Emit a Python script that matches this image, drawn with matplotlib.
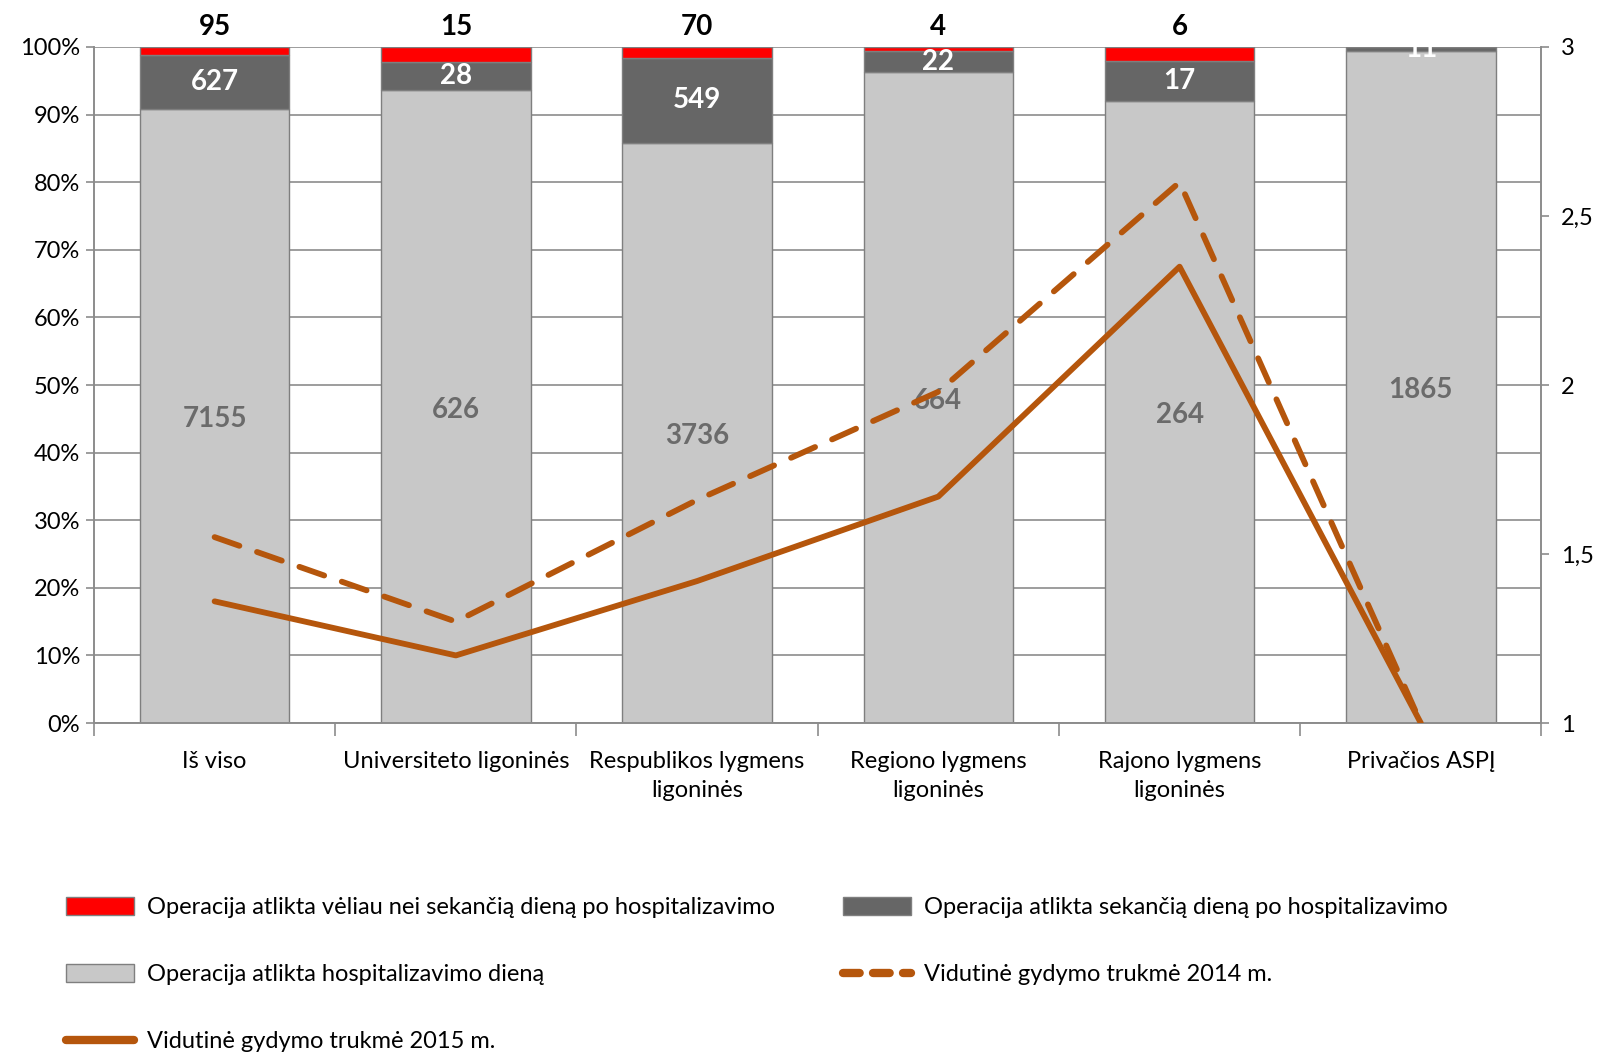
import numpy as np
import matplotlib.pyplot as plt
from matplotlib.patches import Patch
from matplotlib.lines import Line2D
from matplotlib.ticker import FixedLocator, PercentFormatter

plt.rcParams['font.family'] = ['Lato', 'DejaVu Sans']

# Duomenys
categories = ['Iš viso', 'Universiteto ligoninės', 'Respublikos lygmens\nligoninės',
              'Regiono lygmens\nligoninės', 'Rajono lygmens\nligoninės', 'Privačios ASPĮ']
same_day = np.array([7155, 626, 3736, 664, 264, 1865])
next_day = np.array([627, 28, 549, 22, 17, 11])
later = np.array([95, 15, 70, 4, 6, 0])
los_2014 = [1.55, 1.30, 1.66, 1.98, 2.60, 1.0]
los_2015 = [1.36, 1.20, 1.42, 1.67, 2.35, 1.0]

labels_legend = ['Operacija atlikta vėliau nei sekančią dieną po hospitalizavimo',
                 'Operacija atlikta sekančią dieną po hospitalizavimo',
                 'Operacija atlikta hospitalizavimo dieną',
                 'Vidutinė gydymo trukmė 2014 m.',
                 'Vidutinė gydymo trukmė 2015 m.']

c_red = '#FF0000'
c_dark = '#666666'
c_light = '#C8C8C8'
c_line = '#B5560C'
c_grid = '#8C8C8C'

total = same_day + next_day + later
p_same = same_day / total
p_next = next_day / total
p_later = later / total

fig = plt.figure(figsize=(16.04, 10.58), dpi=100)
ax = fig.add_axes([0.0586, 0.3166, 0.9024, 0.639])
x = np.arange(len(categories))
w = 0.62

ax.bar(x, p_same, w, color=c_light, edgecolor='#7F7F7F', linewidth=1, zorder=2)
ax.bar(x, p_next, w, bottom=p_same, color=c_dark, edgecolor='#7F7F7F', linewidth=1, zorder=2)
ax.bar(x, p_later, w, bottom=p_same + p_next, color=c_red, edgecolor='#7F7F7F', linewidth=1, zorder=2)

for i in range(len(x)):
    ax.text(x[i], p_same[i] / 2 - 0.005, str(same_day[i]), ha='center', va='center',
            fontsize=20, fontweight='bold', color='#6B6B6B', zorder=3)
    t = ax.text(x[i], p_same[i] + p_next[i] / 2, str(next_day[i]), ha='center', va='center',
                fontsize=20, fontweight='bold', color='white', zorder=3)
    t.set_clip_on(True)
    if later[i] > 0:
        ax.text(x[i], 1.010, str(later[i]), ha='center', va='bottom',
                fontsize=20, fontweight='bold', color='black', zorder=3, clip_on=False)

ax.set_xlim(-0.5, len(x) - 0.5)
ax.set_ylim(0, 1)
ax.yaxis.set_major_locator(FixedLocator(np.arange(0, 1.01, 0.1)))
ax.yaxis.set_major_formatter(PercentFormatter(1.0, decimals=0))
ax.grid(axis='y', color=c_grid, linewidth=1.2, zorder=0)
ax.set_axisbelow(True)

ax.set_xticks(x)
ax.set_xticklabels(categories, fontsize=17, linespacing=1.5)
ax.set_xticks(np.arange(-0.5, len(x), 1), minor=True)
ax.tick_params(axis='x', which='major', length=0, pad=20)
ax.tick_params(axis='x', which='minor', length=9, color=c_grid, width=1.2)
ax.tick_params(axis='y', labelsize=17, length=6, color=c_grid, width=1.2, pad=4)

ax.spines['top'].set_visible(False)
for s in ['left', 'bottom', 'right']:
    ax.spines[s].set_color(c_grid)
    ax.spines[s].set_linewidth(1.2)

ax2 = ax.twinx()
ax2.plot(x, los_2014, color=c_line, linewidth=4.2, dashes=(4.5, 3.2),
         dash_capstyle='round', zorder=4)
ax2.plot(x, los_2015, color=c_line, linewidth=4.2, solid_capstyle='round', zorder=4)
ax2.set_ylim(1, 3)
ax2.set_yticks([1, 1.5, 2, 2.5, 3])
ax2.set_yticklabels(['1', '1,5', '2', '2,5', '3'])
ax2.tick_params(axis='y', labelsize=17, length=6, color=c_grid, width=1.2, pad=8)
ax2.spines['top'].set_visible(False)
for s in ['left', 'bottom', 'right']:
    ax2.spines[s].set_color(c_grid)
    ax2.spines[s].set_linewidth(1.2)

handles = [
    Patch(facecolor=c_red, edgecolor='#7F7F7F', linewidth=1),
    Patch(facecolor=c_light, edgecolor='#7F7F7F', linewidth=1),
    Line2D([], [], color=c_line, linewidth=6, solid_capstyle='round'),
    Patch(facecolor=c_dark, edgecolor='#7F7F7F', linewidth=1),
    Line2D([], [], color=c_line, linewidth=6, dashes=(2, 1.6), dash_capstyle='round'),
]
names = [labels_legend[0], labels_legend[2], labels_legend[4], labels_legend[1], labels_legend[3]]
fig.legend(handles, names, loc='upper left', bbox_to_anchor=(0.028, 0.172), ncol=2,
           frameon=False, fontsize=17, handlelength=2.86, handleheight=0.75,
           handletextpad=0.56, labelspacing=1.95, columnspacing=2.9)

fig.savefig('out.png', dpi=100)
